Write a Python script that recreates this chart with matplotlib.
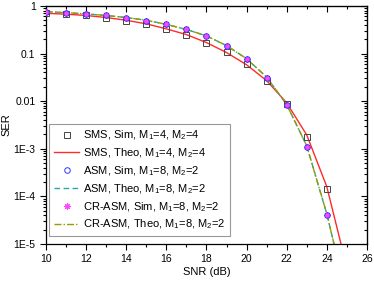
import numpy as np
import matplotlib
matplotlib.use('Agg')
import matplotlib.pyplot as plt
from matplotlib.ticker import FixedLocator, FixedFormatter, MultipleLocator, LogLocator, NullFormatter

plt.rcParams['font.family'] = ['Liberation Sans', 'DejaVu Sans']

# SNR points (dB)
snr_sim = [10, 11, 12, 13, 14, 15, 16, 17, 18, 19, 20, 21, 22, 23, 24]
snr_theo = [10, 11, 12, 13, 14, 15, 16, 17, 18, 19, 20, 21, 22, 23, 24, 25]

# SMS, M1=4, M2=4
sms_sim = [0.72, 0.67, 0.64, 0.56, 0.49, 0.41, 0.32, 0.245, 0.167, 0.106,
           0.059, 0.027, 0.0089, 1.8e-3, 1.4e-4]
sms_theo = [0.70, 0.67, 0.63, 0.57, 0.50, 0.42, 0.33, 0.25, 0.17, 0.105,
            0.058, 0.027, 0.0092, 1.95e-3, 1.6e-4, 3.2e-6]

# ASM, M1=8, M2=2
asm_sim = [0.74, 0.71, 0.67, 0.63, 0.57, 0.49, 0.41, 0.32, 0.235, 0.147,
           0.077, 0.031, 0.0083, 1.1e-3, 4.1e-5]
asm_theo = [0.76, 0.72, 0.68, 0.63, 0.57, 0.50, 0.41, 0.32, 0.235, 0.147,
            0.078, 0.032, 0.0085, 1.15e-3, 4.3e-5, 7.4e-7]

# CR-ASM, M1=8, M2=2
crasm_sim = [0.74, 0.71, 0.67, 0.63, 0.57, 0.49, 0.41, 0.32, 0.235, 0.147,
             0.077, 0.031, 0.0083, 1.1e-3, 4.1e-5]
crasm_theo = [0.76, 0.72, 0.68, 0.63, 0.57, 0.50, 0.41, 0.32, 0.235, 0.147,
              0.078, 0.032, 0.0085, 1.15e-3, 4.3e-5, 7.4e-7]

ytick_vals = [1, 0.1, 0.01, 1e-3, 1e-4, 1e-5]
ytick_labels = ['1', '0.1', '0.01', '1E-3', '1E-4', '1E-5']

def m(a, b):
    return 'M$_{\\mathregular{1}}$=' + a + ', M$_{\\mathregular{2}}$=' + b

fig = plt.figure(figsize=(3.74, 2.82), dpi=100)
ax = fig.add_axes([0.123, 0.135, 0.858, 0.844])

ax.plot(snr_theo, sms_theo, color='#ff2a2a', lw=1.0, label='SMS, Theo, ' + m('4', '4'), zorder=2)
ax.plot(snr_theo, asm_theo, color='#22aaaa', lw=1.0, ls=(0, (4, 2.5)), label='ASM, Theo, ' + m('8', '2'), zorder=2)
ax.plot(snr_theo, crasm_theo, color='#999900', lw=1.0, ls=(0, (5, 1.5, 1, 1.5)), label='CR-ASM, Theo, ' + m('8', '2'), zorder=2)
ax.plot(snr_sim, sms_sim, ls='none', marker='s', ms=4, mfc='none', mec='#444444', mew=0.7,
        label='SMS, Sim, ' + m('4', '4'), zorder=3)
ax.plot(snr_sim, asm_sim, ls='none', marker='o', ms=4, mfc='none', mec='#3333ff', mew=0.7,
        label='ASM, Sim, ' + m('8', '2'), zorder=5)
ax.plot(snr_sim, crasm_sim, ls='none', marker=(8, 2, 0), ms=4.5, mfc='#ff55ff', mec='#ff44ff', mew=0.8,
        label='CR-ASM, Sim, ' + m('8', '2'), zorder=4)

ax.set_yscale('log')
ax.set_xlim(10, 26)
ax.set_ylim(1e-5, 1)
ax.xaxis.set_major_locator(MultipleLocator(2))
ax.xaxis.set_minor_locator(MultipleLocator(1))
ax.yaxis.set_major_locator(FixedLocator(ytick_vals))
ax.yaxis.set_major_formatter(FixedFormatter(ytick_labels))
ax.yaxis.set_minor_locator(LogLocator(base=10, subs=np.arange(2, 10)))
ax.yaxis.set_minor_formatter(NullFormatter())

ax.tick_params(which='both', direction='out', labelsize=7.5, width=0.8, top=False, right=False)
ax.tick_params(which='major', length=4)
ax.tick_params(which='minor', length=2)
for s in ax.spines.values():
    s.set_linewidth(0.9)

# mirrored ticks on top and right, pointing in
sx = ax.secondary_xaxis('top')
sx.xaxis.set_major_locator(MultipleLocator(2))
sx.xaxis.set_minor_locator(MultipleLocator(1))
sx.tick_params(which='both', direction='in', labeltop=False, width=0.8)
sx.tick_params(which='major', length=4)
sx.tick_params(which='minor', length=2)
sy = ax.secondary_yaxis('right')
sy.set_yscale('log')
sy.yaxis.set_major_locator(FixedLocator(ytick_vals))
sy.yaxis.set_minor_locator(LogLocator(base=10, subs=np.arange(2, 10)))
sy.yaxis.set_minor_formatter(NullFormatter())
sy.tick_params(which='both', direction='in', labelright=False, width=0.8)
sy.tick_params(which='major', length=4)
sy.tick_params(which='minor', length=2)

ax.set_xlabel('SNR (dB)', fontsize=8, labelpad=2)
ax.set_ylabel('SER', fontsize=8, labelpad=1.5)

h, l = ax.get_legend_handles_labels()
order = [3, 0, 4, 1, 5, 2]
leg = ax.legend([h[i] for i in order], [l[i] for i in order], loc='lower left',
                bbox_to_anchor=(0.0, 0.02), fontsize=8, numpoints=1, handlelength=2.3,
                handletextpad=0.35, borderpad=0.4, labelspacing=0.38, borderaxespad=0.3,
                fancybox=False, edgecolor='#999999', framealpha=1)
leg.get_frame().set_linewidth(0.8)

fig.savefig('out.png', dpi=100)
